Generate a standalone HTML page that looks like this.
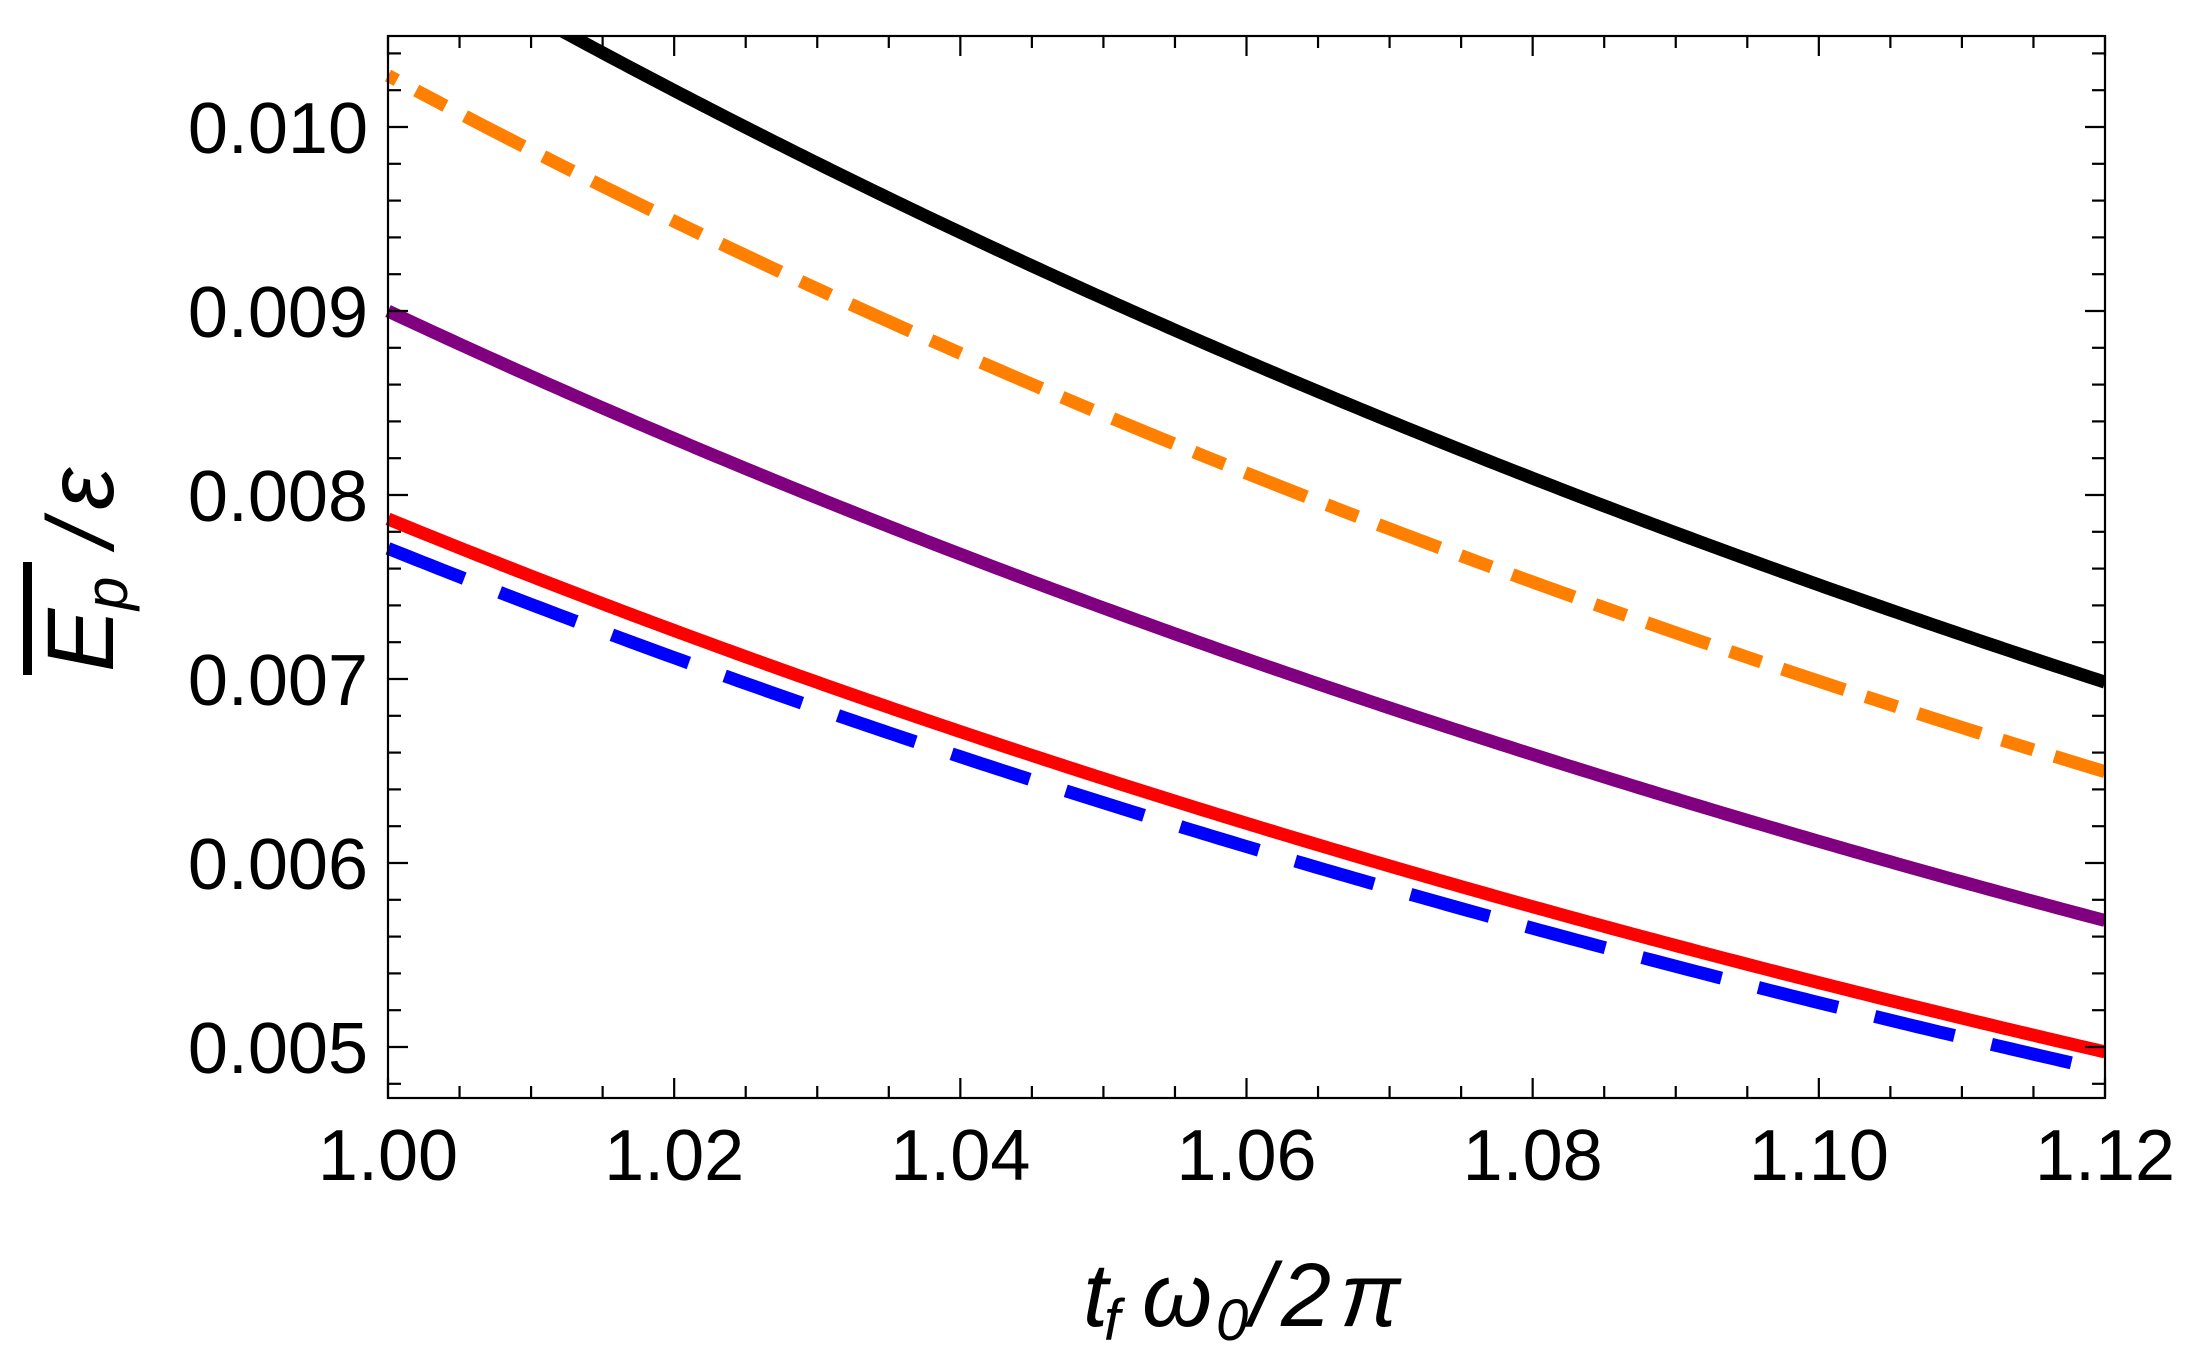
<!DOCTYPE html>
<html><head><meta charset="utf-8"><style>
html,body{margin:0;padding:0;background:#fff;}
svg{display:block;}
text{font-family:"Liberation Sans",sans-serif;}
</style></head><body>
<svg id="s" width="2201" height="1356" viewBox="0 0 2201 1356" xmlns="http://www.w3.org/2000/svg">
<rect width="2201" height="1356" fill="#fff"/>
<g id="curves" fill="none" stroke-linecap="butt" stroke-linejoin="round"></g>
<g id="ticks" stroke="#000" stroke-width="2.2"></g>
<rect x="388" y="36" width="1717" height="1062" fill="none" stroke="#000" stroke-width="2.2"/>
<g id="labels" font-size="72" fill="#000"></g>
<!-- x title -->
<g font-style="italic" fill="#000">
<text x="1083" y="1326" font-size="90">t</text>
<text x="1104" y="1340" font-size="58">f</text>
<text x="1142" y="1326" font-size="90">ω</text>
<text x="1216" y="1340" font-size="58">0</text>
<text x="1250" y="1326" font-size="90">/</text>
<text x="1281" y="1326" font-size="90">2</text>
<text x="1340" y="1326" font-size="90">π</text>
</g>
<!-- y title -->
<g transform="translate(113,672) rotate(-90)" font-style="italic" fill="#000">
<text x="0" y="0" font-size="95">E</text>
<text x="62" y="14" font-size="60">p</text>
<text x="125" y="0" font-size="95">/</text>
<text x="162" y="0" font-size="95">ε</text>
<rect x="-3" y="-90" width="113" height="9" fill="#000"/>
</g>
</svg>
<script>
(function(){
var NS="http://www.w3.org/2000/svg";
function X(t){return 388+(t-1)/0.12*1717;}
function Y(v){return 127+(0.010-v)/0.001*184;}
function el(p,n,a){var e=document.createElementNS(NS,n);for(var k in a)e.setAttribute(k,a[k]);p.appendChild(e);return e;}
var cg=document.getElementById('curves');
var defs=el(document.getElementById('s'),'defs',{});
var cp=el(defs,'clipPath',{id:'cp'});el(cp,'rect',{x:370,y:37,width:1735,height:1060});
cg.setAttribute('clip-path','url(#cp)');
var series=[
 {c:0.00771,col:'#0000ff',dash:'82 38',off:0},
 {c:0.00787,col:'#ff0000'},
 {c:0.00900,col:'#800080'},
 {c:0.01028,col:'#ff8000',dash:'66 22 33 22',off:56},
 {c:0.01105,col:'#000000'}
];
series.forEach(function(s){
 var d='';
 for(var i=0;i<=240;i++){var t=1+0.12*i/240;var v=s.c*Math.pow(t,-4.05);
  d+=(i?'L':'M')+X(t).toFixed(2)+' '+Y(v).toFixed(2);}
 var a={d:d,stroke:s.col,'stroke-width':13};
 if(s.dash){a['stroke-dasharray']=s.dash;a['stroke-dashoffset']=s.off;}
 el(cg,'path',a);
});
var tg=document.getElementById('ticks');
for(var i=0;i<=24;i++){var x=X(1+0.005*i);var L=(i%4==0)?20:12;
 el(tg,'line',{x1:x,y1:1098,x2:x,y2:1098-L});el(tg,'line',{x1:x,y1:36,x2:x,y2:36+L});}
for(var j=24;j<=52;j++){var v=j*0.0002;var y=Y(v);if(y<36||y>1098)continue;var L=(j%5==0)?20:13;
 el(tg,'line',{x1:388,y1:y,x2:388+L,y2:y});el(tg,'line',{x1:2105,y1:y,x2:2105-L,y2:y});}
var lg=document.getElementById('labels');
['1.00','1.02','1.04','1.06','1.08','1.10','1.12'].forEach(function(s,i){
 var t=el(lg,'text',{x:X(1+0.02*i),y:1180,'text-anchor':'middle'});t.textContent=s;});
['0.005','0.006','0.007','0.008','0.009','0.010'].forEach(function(s,i){
 var t=el(lg,'text',{x:368,y:Y(0.005+0.001*i)+26,'text-anchor':'end'});t.textContent=s;});
})();
</script>
</body></html>
